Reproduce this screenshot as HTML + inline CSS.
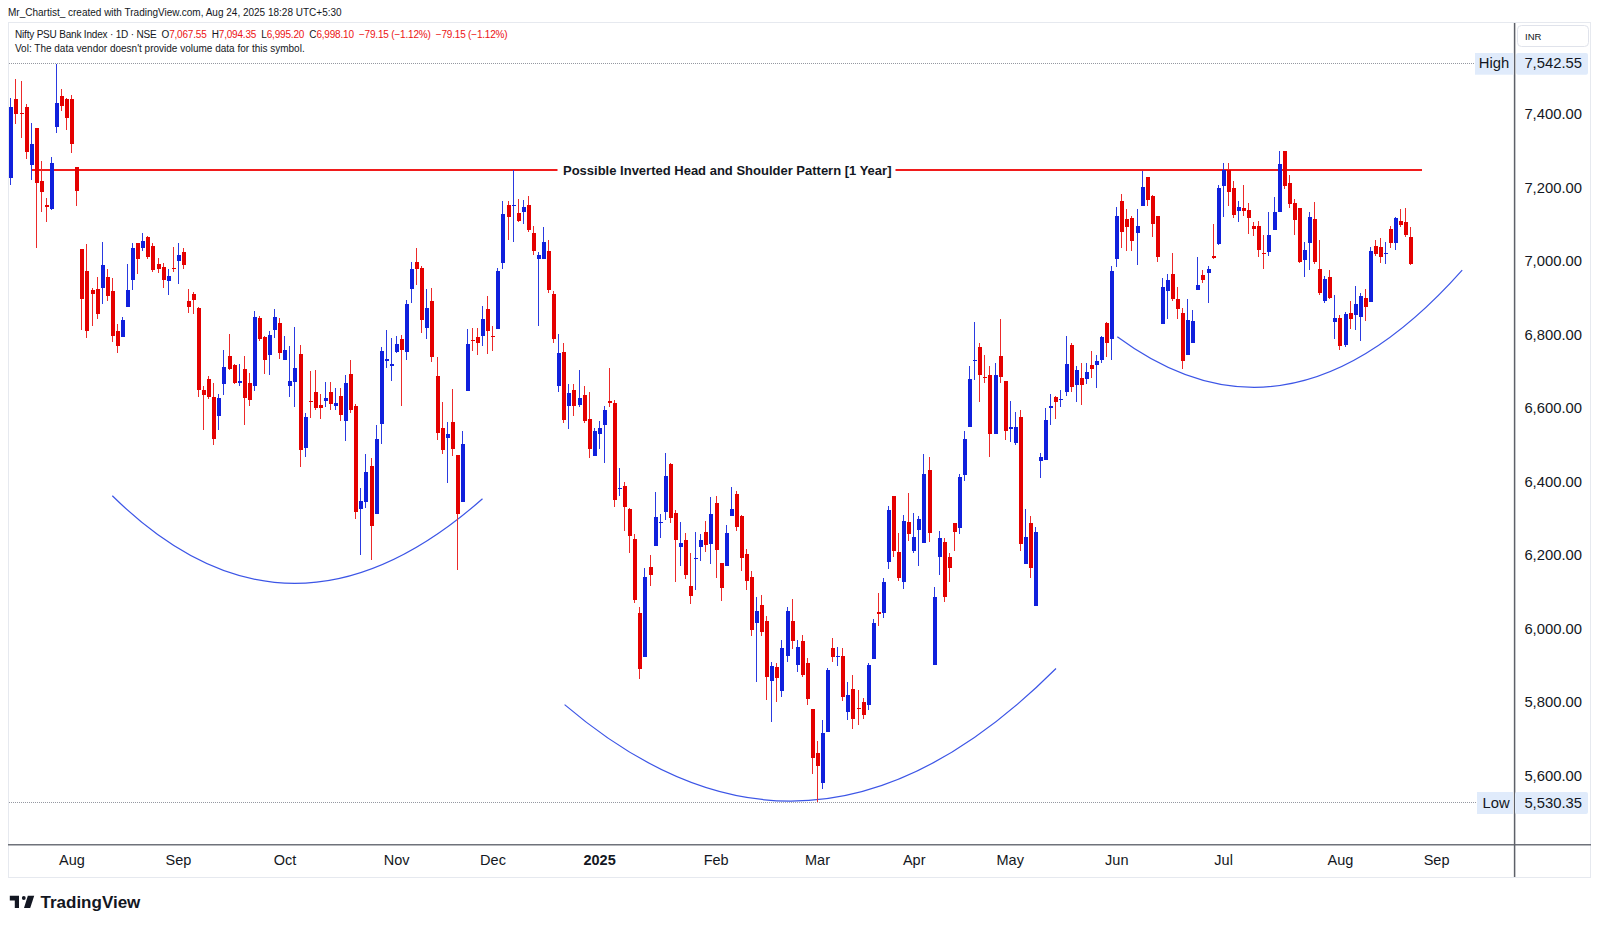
<!DOCTYPE html>
<html><head><meta charset="utf-8">
<style>
html,body{margin:0;padding:0;background:#fff;width:1600px;height:927px;overflow:hidden}
svg{display:block;font-family:"Liberation Sans",sans-serif}
text{white-space:pre}
.ax{font-size:14.8px;fill:#131722}
.tx{font-size:14.5px;fill:#131722}
.b{font-weight:bold}
.lg{font-size:10px;fill:#131722}
.lg2{font-size:10px;fill:#131722;letter-spacing:-0.19px}
.rd{fill:#ec1414}
</style></head><body>
<svg width="1600" height="927" viewBox="0 0 1600 927">
<rect width="1600" height="927" fill="#fff"/>
<text x="8" y="16.3" class="lg">Mr_Chartist_ created with TradingView.com, Aug 24, 2025 18:28 UTC+5:30</text>
<rect x="8.5" y="22.5" width="1582" height="855" fill="none" stroke="#e6e9ef" stroke-width="1"/>
<line x1="8" y1="844.8" x2="1591" y2="844.8" stroke="#6f727a" stroke-width="1.6"/>
<line x1="1514.6" y1="23" x2="1514.6" y2="877" stroke="#5d6068" stroke-width="1.5"/>
<text x="15" y="37.9" class="lg2">Nifty PSU Bank Index · 1D · NSE  O<tspan class="rd">7,067.55</tspan>  H<tspan class="rd">7,094.35</tspan>  L<tspan class="rd">6,995.20</tspan>  C<tspan class="rd">6,998.10</tspan>  <tspan class="rd">−79.15 (−1.12%)  −79.15 (−1.12%)</tspan></text>
<text x="15" y="51.7" class="lg">Vol: The data vendor doesn't provide volume data for this symbol.</text>
<line x1="9" y1="63.5" x2="1475" y2="63.5" stroke="#9598a1" stroke-width="1" stroke-dasharray="1 1"/>
<line x1="9" y1="802.5" x2="1477" y2="802.5" stroke="#9598a1" stroke-width="1" stroke-dasharray="1 1"/>
<rect x="1475" y="53" width="38.5" height="21.7" fill="#e0ebfb"/>
<rect x="1516" y="53" width="72" height="21.7" rx="2" fill="#e0ebfb"/>
<rect x="1477" y="792" width="36" height="22" fill="#e0ebfb"/>
<rect x="1515" y="792" width="73" height="22" rx="2" fill="#e0ebfb"/>
<text x="1494" y="68" text-anchor="middle" class="ax">High</text>
<text x="1582" y="68.1" text-anchor="end" class="ax">7,542.55</text>
<text x="1496" y="808" text-anchor="middle" class="ax">Low</text>
<text x="1582" y="808" text-anchor="end" class="ax">5,530.35</text>
<rect x="1517.5" y="25.5" width="71" height="21" rx="4" fill="#fff" stroke="#e0e3eb"/>
<text x="1525" y="40.4" style="font-size:9.5px;fill:#131722">INR</text>
<text x="1582" y="119.3" text-anchor="end" class="ax">7,400.00</text>
<text x="1582" y="192.8" text-anchor="end" class="ax">7,200.00</text>
<text x="1582" y="266.3" text-anchor="end" class="ax">7,000.00</text>
<text x="1582" y="339.8" text-anchor="end" class="ax">6,800.00</text>
<text x="1582" y="413.3" text-anchor="end" class="ax">6,600.00</text>
<text x="1582" y="486.8" text-anchor="end" class="ax">6,400.00</text>
<text x="1582" y="560.3" text-anchor="end" class="ax">6,200.00</text>
<text x="1582" y="633.8" text-anchor="end" class="ax">6,000.00</text>
<text x="1582" y="707.3" text-anchor="end" class="ax">5,800.00</text>
<text x="1582" y="780.8" text-anchor="end" class="ax">5,600.00</text>

<text x="72" y="865" text-anchor="middle" class="tx">Aug</text>
<text x="178.4" y="865" text-anchor="middle" class="tx">Sep</text>
<text x="285" y="865" text-anchor="middle" class="tx">Oct</text>
<text x="396.6" y="865" text-anchor="middle" class="tx">Nov</text>
<text x="493" y="865" text-anchor="middle" class="tx">Dec</text>
<text x="599.6" y="865" text-anchor="middle" class="tx b">2025</text>
<text x="716.2" y="865" text-anchor="middle" class="tx">Feb</text>
<text x="817.5" y="865" text-anchor="middle" class="tx">Mar</text>
<text x="914.2" y="865" text-anchor="middle" class="tx">Apr</text>
<text x="1010.2" y="865" text-anchor="middle" class="tx">May</text>
<text x="1116.8" y="865" text-anchor="middle" class="tx">Jun</text>
<text x="1223.6" y="865" text-anchor="middle" class="tx">Jul</text>
<text x="1340.4" y="865" text-anchor="middle" class="tx">Aug</text>
<text x="1436.6" y="865" text-anchor="middle" class="tx">Sep</text>

<path d="M112.3 495.8Q289 669.5 482.5 498.75" fill="none" stroke="#3c55e6" stroke-width="1.2"/>
<path d="M564.6 704.6Q810.3 914.2 1056 668.5" fill="none" stroke="#3c55e6" stroke-width="1.2"/>
<path d="M1117.3 336.7Q1289.75 464.3 1462.2 270.2" fill="none" stroke="#3c55e6" stroke-width="1.2"/>
<line x1="31" y1="170" x2="557.5" y2="170" stroke="#f01c1c" stroke-width="2"/>
<line x1="895.5" y1="170" x2="1422" y2="170" stroke="#f01c1c" stroke-width="2"/>
<text x="563" y="174.5" class="b" style="font-size:13px;fill:#131722">Possible Inverted Head and Shoulder Pattern [1 Year]</text>
<path d="M15 79h1V124h-1zM21 81h1V138h-1zM26 104h1V159h-1zM36 128h1V248h-1zM41 161h1V212h-1zM46 198h1V222h-1zM61 89h1V111h-1zM66 98h1V130h-1zM71 95h1V153h-1zM76 167h1V206h-1zM81 249h1V330h-1zM86 244h1V338h-1zM92 288h1V326h-1zM97 277h1V319h-1zM107 269h1V301h-1zM112 278h1V342h-1zM117 324h1V353h-1zM137 243h1V274h-1zM147 236h1V259h-1zM152 243h1V272h-1zM158 258h1V273h-1zM163 263h1V288h-1zM173 247h1V272h-1zM183 248h1V269h-1zM188 289h1V313h-1zM193 292h1V314h-1zM198 307h1V397h-1zM203 386h1V430h-1zM208 376h1V399h-1zM213 383h1V445h-1zM229 334h1V370h-1zM234 364h1V384h-1zM244 356h1V425h-1zM249 373h1V406h-1zM259 316h1V341h-1zM264 336h1V374h-1zM279 318h1V359h-1zM300 345h1V467h-1zM310 371h1V418h-1zM315 370h1V410h-1zM320 394h1V419h-1zM330 382h1V410h-1zM340 388h1V421h-1zM350 360h1V413h-1zM355 404h1V519h-1zM371 458h1V560h-1zM401 335h1V406h-1zM416 248h1V285h-1zM421 266h1V333h-1zM431 288h1V362h-1zM437 357h1V440h-1zM442 402h1V454h-1zM452 389h1V456h-1zM457 455h1V570h-1zM472 328h1V351h-1zM477 328h1V355h-1zM487 296h1V354h-1zM492 326h1V351h-1zM508 201h1V240h-1zM518 199h1V222h-1zM528 196h1V232h-1zM533 226h1V255h-1zM548 240h1V293h-1zM553 291h1V343h-1zM563 343h1V423h-1zM573 384h1V416h-1zM584 386h1V423h-1zM589 392h1V458h-1zM609 368h1V407h-1zM614 400h1V507h-1zM624 482h1V531h-1zM629 508h1V553h-1zM634 534h1V603h-1zM639 607h1V679h-1zM650 555h1V586h-1zM670 463h1V523h-1zM675 510h1V582h-1zM685 533h1V579h-1zM690 553h1V604h-1zM705 521h1V552h-1zM716 496h1V578h-1zM721 563h1V601h-1zM736 491h1V531h-1zM741 515h1V571h-1zM746 549h1V590h-1zM751 571h1V636h-1zM761 595h1V636h-1zM766 616h1V700h-1zM776 663h1V702h-1zM792 599h1V649h-1zM802 635h1V677h-1zM807 658h1V705h-1zM812 709h1V774h-1zM817 741h1V802h-1zM832 638h1V662h-1zM842 648h1V701h-1zM852 675h1V729h-1zM858 690h1V725h-1zM863 698h1V719h-1zM878 593h1V626h-1zM893 496h1V557h-1zM898 533h1V581h-1zM908 493h1V541h-1zM929 457h1V542h-1zM944 538h1V602h-1zM949 553h1V582h-1zM954 523h1V551h-1zM979 343h1V402h-1zM984 355h1V383h-1zM989 366h1V457h-1zM1000 319h1V383h-1zM1005 381h1V440h-1zM1020 410h1V551h-1zM1030 516h1V578h-1zM1055 396h1V419h-1zM1071 343h1V392h-1zM1081 363h1V405h-1zM1091 351h1V378h-1zM1106 322h1V357h-1zM1121 194h1V248h-1zM1126 209h1V251h-1zM1131 216h1V251h-1zM1147 177h1V206h-1zM1152 195h1V237h-1zM1157 216h1V262h-1zM1172 253h1V301h-1zM1177 287h1V319h-1zM1182 308h1V369h-1zM1202 270h1V283h-1zM1213 224h1V259h-1zM1228 163h1V206h-1zM1233 181h1V218h-1zM1243 185h1V216h-1zM1248 203h1V234h-1zM1253 222h1V236h-1zM1258 221h1V257h-1zM1263 235h1V269h-1zM1284 151h1V189h-1zM1289 175h1V208h-1zM1294 199h1V235h-1zM1299 208h1V263h-1zM1314 202h1V264h-1zM1319 240h1V295h-1zM1329 270h1V299h-1zM1339 315h1V350h-1zM1350 301h1V329h-1zM1365 289h1V321h-1zM1375 240h1V256h-1zM1380 238h1V263h-1zM1390 226h1V248h-1zM1400 209h1V227h-1zM1405 208h1V237h-1zM1410 227h1V265h-1z" fill="#ec2a2a"/>
<path d="M10 98h1V185h-1zM31 123h1V180h-1zM51 157h1V210h-1zM56 64h1V133h-1zM102 242h1V304h-1zM122 317h1V337h-1zM127 264h1V307h-1zM132 243h1V290h-1zM142 233h1V251h-1zM168 269h1V295h-1zM178 243h1V284h-1zM218 394h1V430h-1zM223 350h1V395h-1zM239 364h1V386h-1zM254 311h1V391h-1zM269 331h1V375h-1zM274 309h1V338h-1zM284 336h1V360h-1zM289 346h1V397h-1zM294 327h1V407h-1zM305 413h1V457h-1zM325 382h1V407h-1zM335 388h1V410h-1zM345 375h1V441h-1zM360 488h1V555h-1zM365 454h1V508h-1zM376 425h1V514h-1zM381 347h1V444h-1zM386 330h1V368h-1zM391 338h1V381h-1zM396 336h1V353h-1zM406 300h1V360h-1zM411 262h1V303h-1zM426 289h1V339h-1zM447 422h1V483h-1zM462 431h1V502h-1zM467 329h1V391h-1zM482 306h1V346h-1zM497 268h1V329h-1zM502 201h1V269h-1zM513 170h1V242h-1zM523 200h1V224h-1zM538 252h1V326h-1zM543 227h1V259h-1zM558 334h1V392h-1zM568 384h1V429h-1zM579 370h1V407h-1zM594 428h1V456h-1zM599 421h1V449h-1zM604 406h1V463h-1zM619 468h1V496h-1zM644 568h1V657h-1zM655 492h1V546h-1zM660 514h1V538h-1zM665 453h1V520h-1zM680 522h1V566h-1zM695 532h1V590h-1zM700 534h1V561h-1zM710 497h1V564h-1zM726 525h1V566h-1zM731 487h1V516h-1zM756 597h1V682h-1zM771 662h1V722h-1zM781 640h1V697h-1zM787 607h1V662h-1zM797 640h1V672h-1zM822 720h1V789h-1zM827 668h1V732h-1zM837 647h1V666h-1zM847 682h1V720h-1zM868 663h1V710h-1zM873 619h1V659h-1zM883 578h1V618h-1zM888 506h1V569h-1zM903 515h1V589h-1zM913 513h1V553h-1zM918 516h1V566h-1zM923 454h1V543h-1zM934 587h1V665h-1zM939 531h1V575h-1zM959 474h1V534h-1zM964 431h1V481h-1zM969 366h1V427h-1zM974 322h1V380h-1zM995 363h1V434h-1zM1010 401h1V442h-1zM1015 412h1V445h-1zM1025 509h1V564h-1zM1035 527h1V606h-1zM1040 453h1V478h-1zM1045 408h1V460h-1zM1050 394h1V425h-1zM1060 390h1V407h-1zM1066 336h1V396h-1zM1076 366h1V402h-1zM1086 363h1V384h-1zM1096 355h1V388h-1zM1101 336h1V363h-1zM1111 266h1V360h-1zM1116 207h1V267h-1zM1137 209h1V265h-1zM1142 171h1V206h-1zM1162 278h1V324h-1zM1167 274h1V319h-1zM1187 299h1V355h-1zM1192 310h1V343h-1zM1197 257h1V290h-1zM1208 266h1V303h-1zM1218 185h1V245h-1zM1223 163h1V217h-1zM1238 201h1V222h-1zM1268 212h1V256h-1zM1274 197h1V230h-1zM1279 151h1V212h-1zM1304 242h1V277h-1zM1309 212h1V270h-1zM1324 276h1V303h-1zM1334 295h1V339h-1zM1345 312h1V347h-1zM1355 286h1V330h-1zM1360 293h1V341h-1zM1370 247h1V302h-1zM1385 242h1V264h-1zM1395 217h1V250h-1z" fill="#2a3ae0"/>
<path d="M14 99h4v15h-4zM20 113h4v1h-4zM25 107h4v45h-4zM35 128h4v55h-4zM40 181h4v11h-4zM45 205h4v2h-4zM60 96h4v10h-4zM65 99h4v19h-4zM70 99h4v45h-4zM75 167h4v24h-4zM80 249h4v50h-4zM85 271h4v60h-4zM91 290h4v4h-4zM96 289h4v25h-4zM106 277h4v19h-4zM111 291h4v45h-4zM116 331h4v15h-4zM136 243h4v16h-4zM146 237h4v20h-4zM151 246h4v24h-4zM157 264h4v5h-4zM162 267h4v13h-4zM172 268h4v1h-4zM182 252h4v13h-4zM187 301h4v6h-4zM192 294h4v6h-4zM197 308h4v82h-4zM202 390h4v5h-4zM207 379h4v18h-4zM212 397h4v42h-4zM228 356h4v13h-4zM233 365h4v18h-4zM243 369h4v29h-4zM248 383h4v17h-4zM258 318h4v21h-4zM263 337h4v23h-4zM278 323h4v30h-4zM299 354h4v96h-4zM309 401h4v1h-4zM314 392h4v16h-4zM319 405h4v3h-4zM329 392h4v12h-4zM339 396h4v19h-4zM349 374h4v36h-4zM354 406h4v106h-4zM370 466h4v60h-4zM400 339h4v11h-4zM415 262h4v7h-4zM420 268h4v52h-4zM430 301h4v56h-4zM436 376h4v57h-4zM441 428h4v22h-4zM451 422h4v27h-4zM456 455h4v59h-4zM471 340h4v1h-4zM476 337h4v6h-4zM486 309h4v22h-4zM491 336h4v1h-4zM507 205h4v12h-4zM517 213h4v8h-4zM527 205h4v25h-4zM532 233h4v18h-4zM547 251h4v39h-4zM552 294h4v45h-4zM562 352h4v68h-4zM572 390h4v16h-4zM583 395h4v26h-4zM588 419h4v30h-4zM608 401h4v2h-4zM613 403h4v97h-4zM623 486h4v21h-4zM628 509h4v27h-4zM633 539h4v61h-4zM638 613h4v56h-4zM649 567h4v8h-4zM669 464h4v54h-4zM674 513h4v27h-4zM684 540h4v35h-4zM689 586h4v10h-4zM704 532h4v13h-4zM715 503h4v47h-4zM720 563h4v25h-4zM735 494h4v33h-4zM740 516h4v42h-4zM745 554h4v27h-4zM750 577h4v53h-4zM760 605h4v27h-4zM765 621h4v56h-4zM775 667h4v11h-4zM791 621h4v20h-4zM801 641h4v34h-4zM806 663h4v36h-4zM811 709h4v49h-4zM816 753h4v13h-4zM831 648h4v9h-4zM841 656h4v41h-4zM851 689h4v30h-4zM857 708h4v1h-4zM862 702h4v13h-4zM877 612h4v2h-4zM892 496h4v55h-4zM897 552h4v26h-4zM907 522h4v12h-4zM928 470h4v63h-4zM943 542h4v55h-4zM948 557h4v11h-4zM953 523h4v9h-4zM978 347h4v28h-4zM983 377h4v1h-4zM988 375h4v59h-4zM999 356h4v21h-4zM1004 381h4v50h-4zM1019 417h4v127h-4zM1029 523h4v45h-4zM1054 397h4v5h-4zM1070 345h4v42h-4zM1080 378h4v7h-4zM1090 365h4v4h-4zM1105 323h4v20h-4zM1120 201h4v31h-4zM1125 219h4v8h-4zM1130 218h4v23h-4zM1146 177h4v23h-4zM1151 196h4v28h-4zM1156 216h4v41h-4zM1171 274h4v25h-4zM1176 299h4v10h-4zM1181 313h4v48h-4zM1201 275h4v5h-4zM1212 256h4v2h-4zM1227 170h4v22h-4zM1232 188h4v27h-4zM1242 208h4v3h-4zM1247 210h4v8h-4zM1252 226h4v3h-4zM1257 226h4v24h-4zM1262 253h4v1h-4zM1283 151h4v35h-4zM1288 183h4v21h-4zM1293 203h4v17h-4zM1298 208h4v54h-4zM1313 219h4v43h-4zM1318 269h4v24h-4zM1328 277h4v21h-4zM1338 318h4v28h-4zM1349 313h4v6h-4zM1364 298h4v9h-4zM1374 246h4v8h-4zM1379 247h4v10h-4zM1389 229h4v14h-4zM1399 221h4v4h-4zM1404 222h4v13h-4zM1409 237h4v27h-4z" fill="#e40000"/>
<path d="M9 107h4v71h-4zM30 144h4v21h-4zM50 163h4v46h-4zM55 103h4v24h-4zM101 265h4v23h-4zM121 320h4v17h-4zM126 290h4v17h-4zM131 248h4v32h-4zM141 241h4v7h-4zM167 276h4v5h-4zM177 255h4v6h-4zM217 398h4v18h-4zM222 367h4v17h-4zM238 381h4v2h-4zM253 317h4v69h-4zM268 335h4v20h-4zM273 317h4v13h-4zM283 350h4v10h-4zM288 381h4v5h-4zM293 368h4v14h-4zM304 417h4v31h-4zM324 398h4v3h-4zM334 403h4v3h-4zM344 383h4v38h-4zM359 501h4v8h-4zM364 472h4v30h-4zM375 439h4v75h-4zM380 351h4v73h-4zM385 359h4v2h-4zM390 364h4v2h-4zM395 344h4v8h-4zM405 304h4v48h-4zM410 269h4v20h-4zM425 308h4v20h-4zM446 434h4v4h-4zM461 444h4v58h-4zM466 344h4v47h-4zM481 319h4v17h-4zM496 271h4v58h-4zM501 214h4v49h-4zM512 205h4v1h-4zM522 207h4v5h-4zM537 255h4v4h-4zM542 242h4v17h-4zM557 353h4v33h-4zM567 393h4v13h-4zM578 398h4v7h-4zM593 431h4v25h-4zM598 428h4v6h-4zM603 410h4v15h-4zM618 488h4v1h-4zM643 577h4v80h-4zM654 517h4v29h-4zM659 522h4v1h-4zM664 476h4v36h-4zM679 543h4v4h-4zM694 558h4v1h-4zM699 540h4v7h-4zM709 514h4v30h-4zM725 533h4v33h-4zM730 509h4v7h-4zM755 611h4v12h-4zM770 666h4v15h-4zM780 648h4v43h-4zM786 611h4v45h-4zM796 647h4v18h-4zM821 733h4v50h-4zM826 670h4v62h-4zM836 656h4v1h-4zM846 695h4v17h-4zM867 665h4v40h-4zM872 623h4v36h-4zM882 582h4v31h-4zM887 510h4v52h-4zM902 521h4v61h-4zM912 537h4v14h-4zM917 519h4v11h-4zM922 474h4v69h-4zM933 597h4v68h-4zM938 538h4v19h-4zM958 477h4v51h-4zM963 439h4v36h-4zM968 379h4v48h-4zM973 360h4v1h-4zM994 375h4v59h-4zM1009 427h4v2h-4zM1014 427h4v16h-4zM1024 537h4v27h-4zM1034 532h4v74h-4zM1039 457h4v4h-4zM1044 420h4v40h-4zM1049 406h4v2h-4zM1059 399h4v1h-4zM1065 364h4v28h-4zM1075 370h4v15h-4zM1085 372h4v7h-4zM1095 361h4v4h-4zM1100 337h4v23h-4zM1110 271h4v68h-4zM1115 216h4v43h-4zM1136 226h4v7h-4zM1141 187h4v19h-4zM1161 287h4v37h-4zM1166 280h4v11h-4zM1186 320h4v35h-4zM1191 321h4v22h-4zM1196 285h4v5h-4zM1207 269h4v4h-4zM1217 188h4v56h-4zM1222 170h4v16h-4zM1237 207h4v4h-4zM1267 235h4v17h-4zM1273 212h4v18h-4zM1278 164h4v48h-4zM1303 250h4v10h-4zM1308 217h4v26h-4zM1323 279h4v22h-4zM1333 318h4v4h-4zM1344 314h4v31h-4zM1354 304h4v11h-4zM1359 296h4v21h-4zM1369 251h4v51h-4zM1384 253h4v1h-4zM1394 218h4v25h-4z" fill="#1020dc"/>

<g transform="translate(0,0)" fill="#131722">
<path d="M9.8 895.8H19V908H14.8V900.5H9.8Z"/>
<circle cx="23.8" cy="898" r="1.9"/>
<path d="M27.8 895.8H34.2L30.2 908H24Z"/>
</g>
<text x="40.5" y="908" style="font-size:17px;font-weight:bold;fill:#131722">TradingView</text>
</svg>
</body></html>
